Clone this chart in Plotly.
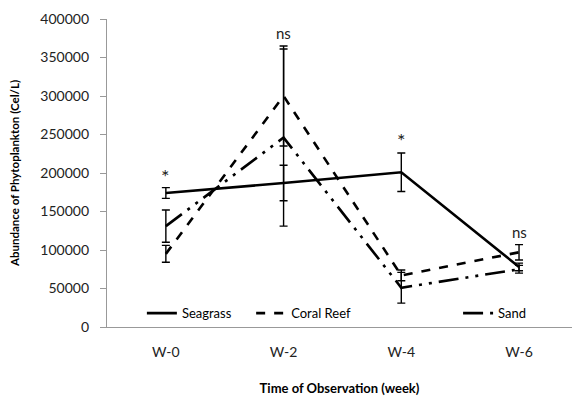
import plotly.graph_objects as go

weeks = ["W-0", "W-2", "W-4", "W-6"]
seagrass = [174000, 187000, 201000, 78000]
seagrass_err = [7000, 23000, 25000, 5000]
coral = [95000, 300000, 67000, 97000]
coral_err = [11000, 65000, 7000, 10000]
sand = [131000, 246000, 51000, 75000]
sand_err = [21000, 115000, 20000, 5000]
sig_labels = ["*", "ns", "*", "ns"]
sig_heights = [186000, 373000, 233000, 114000]

FONT = "Lato"
xs = list(range(len(weeks)))

fig = go.Figure()

def add(name, vals, errs, dash, legend, width=2.6):
    fig.add_trace(go.Scatter(
        x=xs, y=vals, name=name, mode="lines",
        line=dict(color="black", width=width, dash=dash),
        error_y=dict(type="data", array=errs, visible=True, color="black", thickness=1.4, width=4),
        legend=legend, showlegend=True,
    ))

add("Seagrass", seagrass, seagrass_err, "solid", "legend")
add("Coral Reef", coral, coral_err, "dash", "legend2")
add("Sand", sand, sand_err, "20px,7px,3px,7px,3px,7px", "legend3")

for i, (lab, h) in enumerate(zip(sig_labels, sig_heights)):
    fig.add_annotation(x=xs[i], y=h, text=lab, showarrow=False,
                       font=dict(family=FONT, size=20 if lab == "*" else 15, color="#222"),
                       yanchor="bottom", yshift=-6 if lab == "*" else -4)

leg_common = dict(orientation="h", yanchor="middle", y=0.045, bgcolor="rgba(0,0,0,0)",
                  font=dict(family=FONT, size=13, color="black"), xanchor="left")

fig.update_layout(
    width=572, height=399,
    margin=dict(l=107, r=0, t=19, b=72),
    plot_bgcolor="white", paper_bgcolor="white",
    font=dict(family=FONT, color="black"),
    showlegend=True,
    legend=dict(x=0.075, **leg_common),
    legend2=dict(x=0.31, **leg_common),
    legend3=dict(x=0.755, **leg_common),
    xaxis=dict(
        tickmode="array", tickvals=xs, ticktext=weeks, range=[-0.5, 3.45],
        showline=True, linecolor="#999", linewidth=1.2, ticks="", showgrid=False,
        tickfont=dict(family=FONT, size=14, color="#222"), ticklabelstandoff=12,
        title=dict(text="<b>Time of Observation (week)</b>", font=dict(family=FONT, size=13), standoff=24),
        zeroline=False,
    ),
    yaxis=dict(
        range=[0, 400000], dtick=50000, tickformat="d",
        showline=True, linecolor="#999", linewidth=1.2, ticks="outside", ticklen=6, tickcolor="#999",
        showgrid=False, zeroline=False, ticklabelstandoff=8,
        tickfont=dict(family=FONT, size=14, color="#222"),
        title=dict(text="<b>Abundance of Phytoplankton (Cel/L)</b>", font=dict(family=FONT, size=11.5), standoff=18),
    ),
)

fig.write_html("out.html")
